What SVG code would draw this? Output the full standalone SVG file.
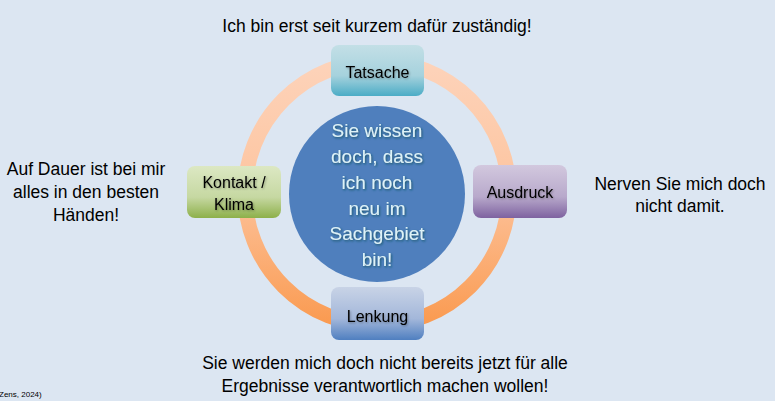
<svg xmlns="http://www.w3.org/2000/svg" width="775" height="401" viewBox="0 0 775 401">
<defs>
<linearGradient id="ringG" x1="0" y1="0" x2="0" y2="1">
<stop offset="0" stop-color="#FDD3BA"/>
<stop offset="0.45" stop-color="#FDC6A2"/>
<stop offset="1" stop-color="#FA9A50"/>
</linearGradient>
<linearGradient id="gTeal" x1="0" y1="0" x2="0" y2="1">
<stop offset="0" stop-color="#C3DFE6"/>
<stop offset="0.6" stop-color="#A6D2DD"/>
<stop offset="1" stop-color="#4BACC6"/>
</linearGradient>
<linearGradient id="gGreen" x1="0" y1="0" x2="0" y2="1">
<stop offset="0" stop-color="#DCE8C3"/>
<stop offset="0.6" stop-color="#C6D8A2"/>
<stop offset="1" stop-color="#8DB04A"/>
</linearGradient>
<linearGradient id="gPurple" x1="0" y1="0" x2="0" y2="1">
<stop offset="0" stop-color="#D2C8DE"/>
<stop offset="0.6" stop-color="#B8A9CB"/>
<stop offset="1" stop-color="#7E62A0"/>
</linearGradient>
<linearGradient id="gBlue" x1="0" y1="0" x2="0" y2="1">
<stop offset="0" stop-color="#C8D3E6"/>
<stop offset="0.6" stop-color="#A3B7DA"/>
<stop offset="1" stop-color="#4F7FC0"/>
</linearGradient>
<filter id="lblShadow" x="-10%" y="-30%" width="120%" height="160%">
<feDropShadow dx="0.8" dy="1" stdDeviation="0.8" flood-color="#000" flood-opacity="0.35"/>
</filter>
<filter id="glow" x="-10%" y="-30%" width="120%" height="160%">
<feDropShadow dx="1" dy="1.2" stdDeviation="1" flood-color="#17566A" flood-opacity="1"/>
</filter>
</defs>
<style>
.t{font-family:"Liberation Sans",Arial,sans-serif;fill:#000;}
.lbl{font-family:"Liberation Sans",Arial,sans-serif;font-size:16px;fill:#000;text-anchor:middle;filter:url(#lblShadow);}
.ctr{font-family:"Liberation Sans",Arial,sans-serif;font-size:19px;fill:#DDF3F8;text-anchor:middle;filter:url(#glow);}
.side{font-family:"Liberation Sans",Arial,sans-serif;font-size:17.5px;fill:#000;text-anchor:middle;}
</style>
<rect x="0" y="0" width="775" height="401" fill="#DCE6F2"/>
<g id="connectors">
<circle cx="377" cy="193" r="132" fill="none" stroke="url(#ringG)" stroke-width="15"/>
</g>
<g id="center">
<circle cx="377" cy="194" r="88" fill="#4F7FBD"/>
<text class="ctr" x="377" y="137">Sie wissen</text>
<text class="ctr" x="377" y="163">doch, dass</text>
<text class="ctr" x="377" y="189">ich noch</text>
<text class="ctr" x="377" y="215">neu im</text>
<text class="ctr" x="377" y="240">Sachgebiet</text>
<text class="ctr" x="377" y="266">bin!</text>
</g>
<g id="tatsache">
<rect x="331" y="45" width="93" height="51" rx="8" fill="url(#gTeal)"/>
<text class="lbl" x="377.5" y="78">Tatsache</text>
</g>
<g id="kontakt">
<rect x="187" y="166" width="94" height="52" rx="8" fill="url(#gGreen)"/>
<text class="lbl" x="234" y="188">Kontakt /</text>
<text class="lbl" x="234" y="210">Klima</text>
</g>
<g id="ausdruck">
<rect x="473" y="165" width="94" height="53" rx="8" fill="url(#gPurple)"/>
<text class="lbl" x="520" y="198">Ausdruck</text>
</g>
<g id="lenkung">
<rect x="331" y="287" width="93" height="53" rx="8" fill="url(#gBlue)"/>
<text class="lbl" x="377.5" y="322">Lenkung</text>
</g>
<g id="quote-top">
<text class="side" x="377" y="32">Ich bin erst seit kurzem dafür zuständig!</text>
</g>
<g id="quote-left">
<text class="side" x="86" y="175">Auf Dauer ist bei mir</text>
<text class="side" x="86" y="198">alles in den besten</text>
<text class="side" x="86" y="221">Händen!</text>
</g>
<g id="quote-right">
<text class="side" x="680" y="190">Nerven Sie mich doch</text>
<text class="side" x="680" y="212">nicht damit.</text>
</g>
<g id="quote-bottom">
<text class="side" x="385" y="369">Sie werden mich doch nicht bereits jetzt für alle</text>
<text class="side" x="385" y="392">Ergebnisse verantwortlich machen wollen!</text>
</g>
<g id="citation">
<text class="t" x="-1" y="397" font-size="8">Zens, 2024)</text>
</g>
</svg>
